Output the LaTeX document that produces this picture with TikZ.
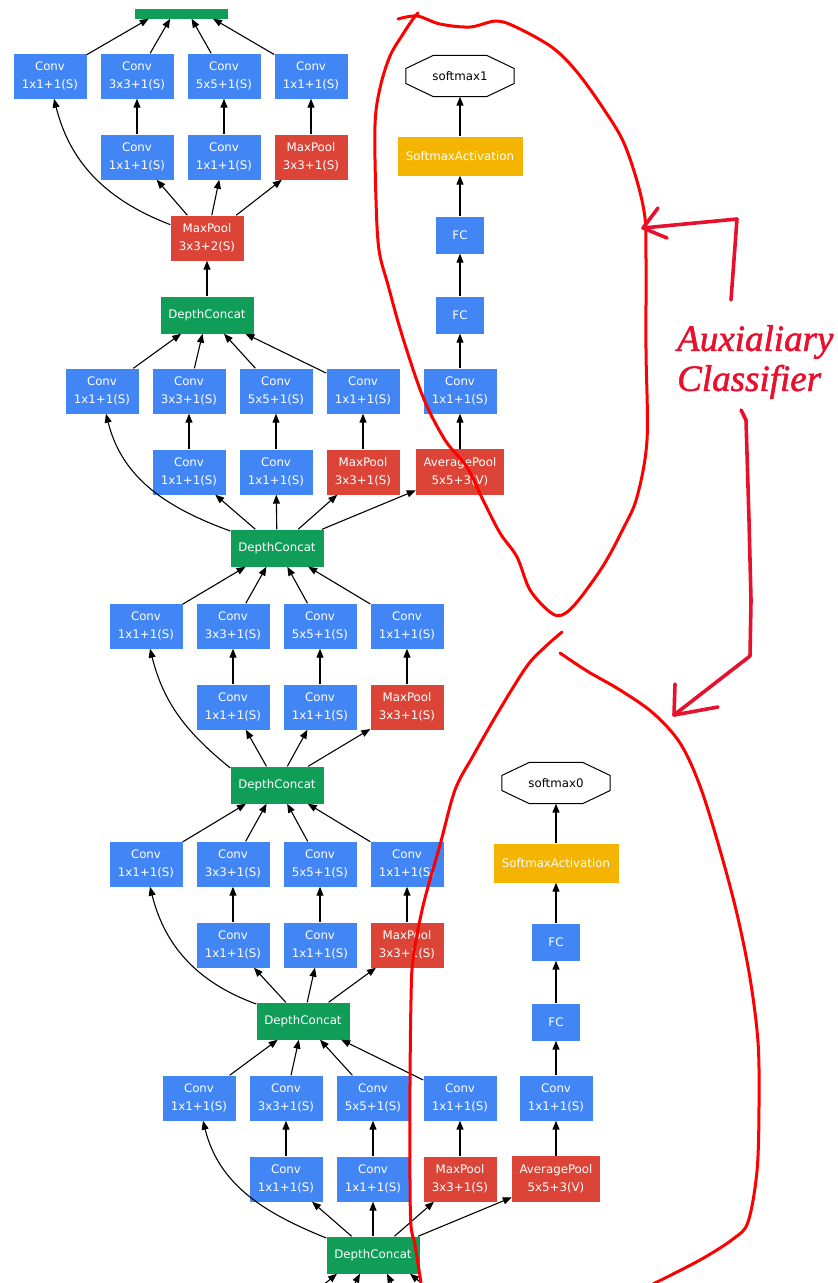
\documentclass[tikz,border=0pt]{standalone}
\usepackage{fontspec}
\setmainfont{DejaVu Sans}
\newfontfamily\handfont[FakeBold=1.5]{Liberation Serif}
\usetikzlibrary{arrows.meta,calc}

\definecolor{gblue}{RGB}{66,133,244}
\definecolor{gred}{RGB}{219,68,55}
\definecolor{ggreen}{RGB}{15,157,88}
\definecolor{gyellow}{RGB}{244,180,0}
\definecolor{loopred}{RGB}{255,0,0}
\definecolor{handred}{RGB}{232,17,45}

\begin{document}
\begin{tikzpicture}[
    x=1pt, y=1pt,
    font=\fontsize{11.8}{18}\selectfont,
    blk/.style        = {inner sep=0pt, align=center, text=white},
    conv/.style       = {blk, fill=gblue, minimum width=73pt, minimum height=45pt},
    pool/.style       = {blk, fill=gred, minimum width=73pt, minimum height=45pt},
    avgpool/.style    = {pool, minimum width=88pt, minimum height=46pt},
    concat/.style     = {blk, fill=ggreen, minimum width=93pt, minimum height=37pt},
    fc/.style         = {blk, fill=gblue, minimum width=48pt, minimum height=37pt},
    softact/.style    = {blk, fill=gyellow, minimum width=125pt, minimum height=39pt},
    outnode/.style    = {inner sep=0pt, minimum width=108pt, minimum height=41pt},
    edge/.style       = {-{Triangle[length=9pt,width=7pt]}, line width=1.1pt, black},
    skip/.style       = {edge, in=-76},
    loopline/.style   = {line width=3pt, draw=loopred, line cap=round, line join=round},
    handline/.style   = {line width=3.6pt, draw=handred, line cap=round, line join=round},
    handtext/.style   = {font=\handfont\itshape\fontsize{37}{40}\selectfont,
                         text=handred, align=left, inner sep=0pt, anchor=west}
  ]

% =========================================================
% Octagon outline round an output node
% =========================================================
\newcommand{\drawoctagon}[1]{%
  \draw[line width=1pt]
    ($(#1.north west)!0.255!(#1.north east)$) -- ($(#1.north west)!0.745!(#1.north east)$)
    -- ($(#1.east)+(0,7.5)$) -- ($(#1.east)+(0,-7.5)$)
    -- ($(#1.south west)!0.745!(#1.south east)$) -- ($(#1.south west)!0.255!(#1.south east)$)
    -- ($(#1.west)+(0,-7.5)$) -- ($(#1.west)+(0,7.5)$) -- cycle;
}

% =========================================================
% Inception block: [out angle of skip]{prefix}{x of col 1}{y of top row}{input}{output}
% =========================================================
\newcommand{\inception}[6][158]{%
  \node[conv] (#2a1) at (#3,#4)     {Conv\\1x1+1(S)};
  \node[conv] (#2a2) at (#3+87,#4)  {Conv\\3x3+1(S)};
  \node[conv] (#2a3) at (#3+174,#4) {Conv\\5x5+1(S)};
  \node[conv] (#2a4) at (#3+261,#4) {Conv\\1x1+1(S)};
  \node[conv] (#2b2) at (#3+87,#4-81)  {Conv\\1x1+1(S)};
  \node[conv] (#2b3) at (#3+174,#4-81) {Conv\\1x1+1(S)};
  \node[pool] (#2b4) at (#3+261,#4-81) {MaxPool\\3x3+1(S)};
  \draw[skip, out=#1] (#5.160) to (#2a1.-80);
  \foreach \k in {2,3,4} {
    \draw[edge] (#5) -- (#2b\k);
    \draw[edge] (#2b\k) -- (#2a\k);
  }
  \foreach \k in {1,...,4} \draw[edge] (#2a\k) -- (#6);
}

% =========================================================
% Auxiliary head: {prefix}{x}{y of AveragePool}{input}{output text}
% =========================================================
\newcommand{\auxhead}[5]{%
  \node[avgpool] (#1pool) at (#2,#3)     {AveragePool\\5x5+3(V)};
  \node[conv]    (#1conv) at (#2,#3+81)  {Conv\\1x1+1(S)};
  \node[fc]      (#1fca)  at (#2,#3+157) {FC};
  \node[fc]      (#1fcb)  at (#2,#3+237) {FC};
  \node[softact] (#1act)  at (#2,#3+316) {SoftmaxActivation};
  \node[outnode] (#1out)  at (#2,#3+396) {#5};
  \drawoctagon{#1out}
  \draw[edge] (#4) -- (#1pool);
  \draw[edge] (#1pool) -- (#1conv);
  \draw[edge] (#1conv) -- (#1fca);
  \draw[edge] (#1fca) -- (#1fcb);
  \draw[edge] (#1fcb) -- (#1act);
  \draw[edge] (#1act) -- (#1out);
}

\useasboundingbox (0,0) rectangle (838,-1283);

\begin{scope}
  \clip (0,-9) rectangle (838,-1283);

  % Concat nodes of the main column
  \node[concat] (dc5) at (181,0) {};
  \node[pool]   (mp)  at (207,-238) {MaxPool\\3x3+2(S)};
  \node[concat] (dc4) at (207,-315) {DepthConcat};
  \node[concat] (dc3) at (277,-548) {DepthConcat};
  \node[concat] (dc2) at (277,-785) {DepthConcat};
  \node[concat] (dc1) at (303,-1021) {DepthConcat};
  \node[concat] (dc0) at (373,-1255) {DepthConcat};
  \draw[edge] (dc4) -- (mp);

  % Inception blocks, top to bottom
  \inception[159]{ia}{50}{-76}{mp}{dc5}
  \inception[160]{ib}{102}{-391}{dc3}{dc4}
  \inception[141]{ic}{146}{-626}{dc2}{dc3}
  \inception[160]{id}{146}{-864}{dc1}{dc2}
  \inception[158]{ie}{199}{-1098}{dc0}{dc1}

  % Auxiliary classifiers
  \auxhead{auxb}{460}{-472}{dc3}{softmax1}
  \auxhead{auxa}{556}{-1179}{dc0}{softmax0}

  % Edges coming in from below the crop
  \coordinate (fromA) at (305,-1300);
  \coordinate (fromB) at (346,-1300);
  \coordinate (fromC) at (400,-1300);
  \coordinate (fromD) at (442,-1300);
  \draw[edge] (fromA) -- ([xshift=-36pt]dc0.south);
  \draw[edge] (fromB) -- ([xshift=-13pt]dc0.south);
  \draw[edge] (fromC) -- ([xshift=14pt]dc0.south);
  \draw[edge] (fromD) -- ([xshift=37pt]dc0.south);
\end{scope}

% =========================================================
% Hand-drawn red notes
% =========================================================
\draw[loopline] plot[smooth, tension=0.55] coordinates {
  (398,-19) (417,-16) (440,-24) (470,-27) (497,-21) (520,-29) (553,-48)
  (577,-72) (603,-108) (623,-141) (637,-181) (645,-218) (646,-260)
  (646,-350) (647,-440) (637,-497) (623,-529) (603,-566) (577,-602)
  (562,-615) (550,-612) (530,-590) (517,-557) (500,-533) (483,-500)
  (467,-467) (445,-440) (423,-397) (402,-335) (388,-285) (379,-250)
  (376,-200) (375,-125) (380,-88) (390,-56) (403,-34) (413,-19) (418,-13)};

\draw[loopline] plot[smooth, tension=0.55] coordinates {
  (562,-632) (545,-647) (527,-666) (500,-709) (473,-756) (455,-790)
  (440,-845) (423,-906) (413,-960) (411,-1000) (410,-1085) (410,-1180)
  (411,-1226) (415,-1245) (421,-1283)};

\draw[loopline] plot[smooth, tension=0.55] coordinates {
  (560,-653) (587,-671) (620,-690) (653,-713) (680,-743) (700,-786)
  (720,-850) (737,-914) (750,-978) (758,-1042) (759,-1106) (757,-1171)
  (748,-1222) (733,-1239) (700,-1260) (653,-1284)};

\node[handtext] (auxnote) at (677,-362) {Auxialiary\\Classifier};

% arrow to the upper loop
\draw[handline] (658,-208) -- (643,-228) -- (667,-238);
\draw[handline] (643,-228) -- (737,-219) -- (731,-300);

% arrow to the lower loop
\draw[handline] (741,-410) -- (746,-420) -- (749,-520) -- (751,-600) -- (750,-656) -- (674,-715);
\draw[handline] (675,-684) -- (674,-715) -- (718,-707);

\end{tikzpicture}
\end{document}
